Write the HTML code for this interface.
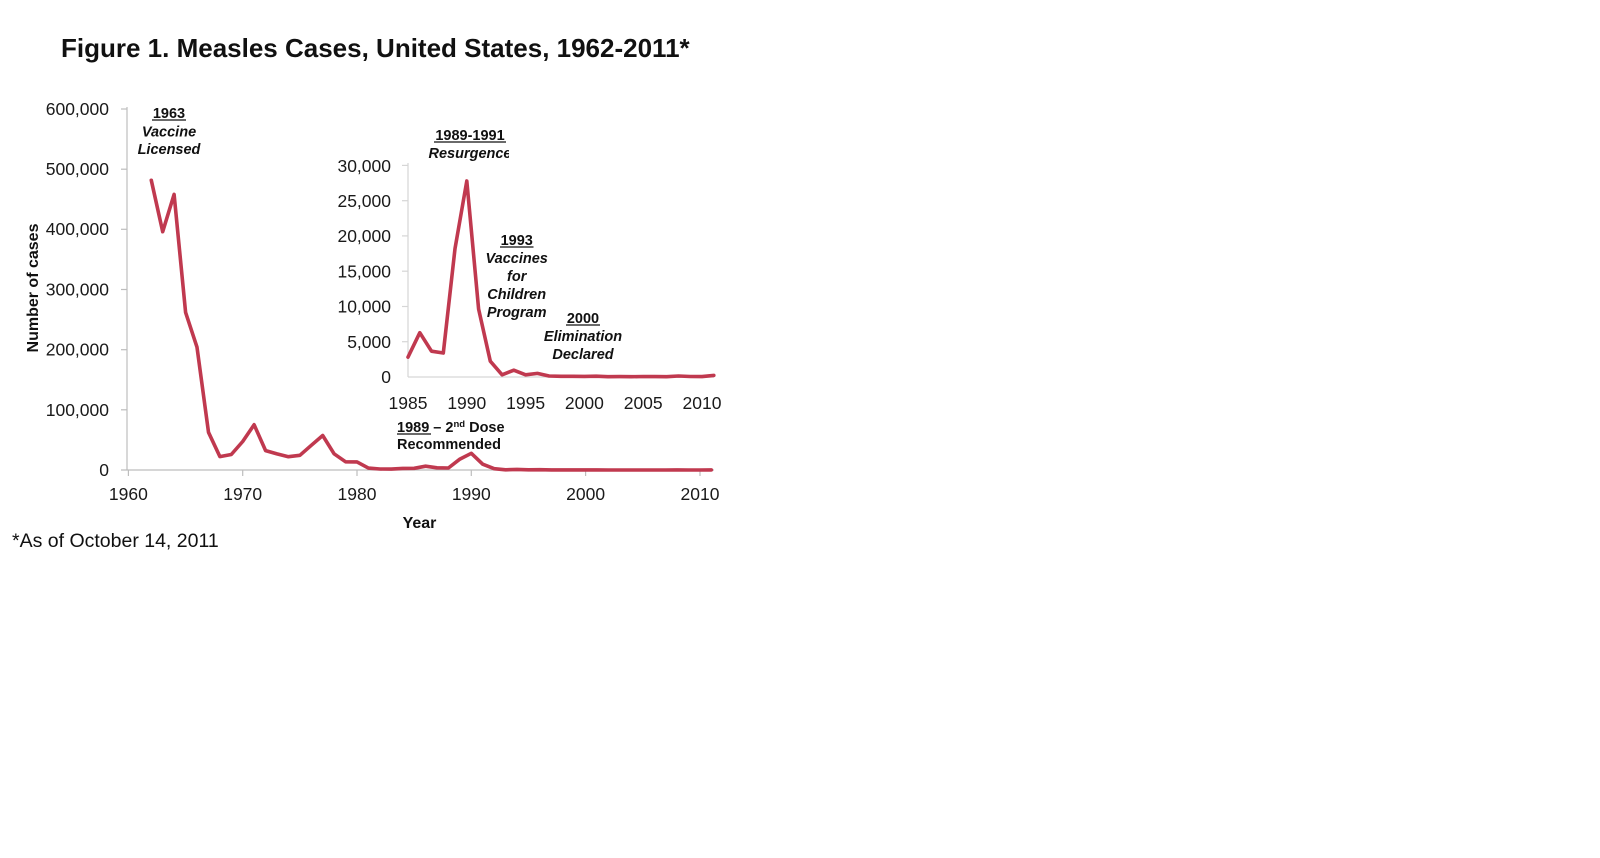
<!DOCTYPE html>
<html>
<head>
<meta charset="utf-8">
<style>
  html, body { margin:0; padding:0; background:#ffffff; }
  body { width:1600px; height:858px; overflow:hidden; }
  svg { display:block; }
  .tk { font-family:"Liberation Sans", Arial, sans-serif; font-size:17.5px; fill:#1a1a1a; }
  .ann { font-family:"Liberation Sans", Arial, sans-serif; font-size:14.5px; font-weight:bold; fill:#111; }
  .it { font-style:italic; }
</style>
</head>
<body>
<svg width="1600" height="858" viewBox="0 0 1600 858" xmlns="http://www.w3.org/2000/svg">
  <rect x="0" y="0" width="1600" height="858" fill="#ffffff"/>

  <!-- Title -->
  <text x="61" y="57" font-family="Liberation Sans, Arial, sans-serif" font-size="26" font-weight="bold" fill="#111">Figure 1. Measles Cases, United States, 1962-2011*</text>

  <!-- Main axes -->
  <g stroke="#bdbdbd" stroke-width="1.2" fill="none">
    <line x1="127" y1="107" x2="127" y2="470"/>
    <line x1="121" y1="470" x2="714" y2="470"/>
    <line x1="121" y1="109.0" x2="127" y2="109.0"/>
    <line x1="121" y1="169.2" x2="127" y2="169.2"/>
    <line x1="121" y1="229.3" x2="127" y2="229.3"/>
    <line x1="121" y1="289.5" x2="127" y2="289.5"/>
    <line x1="121" y1="349.7" x2="127" y2="349.7"/>
    <line x1="121" y1="409.8" x2="127" y2="409.8"/>
    <line x1="128.4" y1="470" x2="128.4" y2="476"/>
    <line x1="242.7" y1="470" x2="242.7" y2="476"/>
    <line x1="357.0" y1="470" x2="357.0" y2="476"/>
    <line x1="471.3" y1="470" x2="471.3" y2="476"/>
    <line x1="585.6" y1="470" x2="585.6" y2="476"/>
    <line x1="700.0" y1="470" x2="700.0" y2="476"/>
  </g>

  <!-- Main y labels -->
  <g class="tk" text-anchor="end">
    <text x="109" y="115">600,000</text>
    <text x="109" y="175">500,000</text>
    <text x="109" y="235">400,000</text>
    <text x="109" y="295.5">300,000</text>
    <text x="109" y="355.5">200,000</text>
    <text x="109" y="416">100,000</text>
    <text x="109" y="476">0</text>
  </g>
  <!-- Main x labels -->
  <g class="tk" text-anchor="middle">
    <text x="128.4" y="500">1960</text>
    <text x="242.7" y="500">1970</text>
    <text x="357.0" y="500">1980</text>
    <text x="471.3" y="500">1990</text>
    <text x="585.6" y="500">2000</text>
    <text x="700.0" y="500">2010</text>
  </g>

  <!-- Axis titles -->
  <text x="0" y="0" transform="translate(38,288) rotate(-90)" text-anchor="middle" font-family="Liberation Sans, Arial, sans-serif" font-size="16" font-weight="bold" fill="#111">Number of cases</text>
  <text x="419.5" y="528" text-anchor="middle" font-family="Liberation Sans, Arial, sans-serif" font-size="16" font-weight="bold" fill="#111">Year</text>

  <!-- Footnote -->
  <text x="12" y="547" font-family="Liberation Sans, Arial, sans-serif" font-size="19.5" fill="#111">*As of October 14, 2011</text>

  <!-- Main series -->
  <polyline fill="none" stroke="#c0394f" stroke-width="3.6" stroke-linejoin="round" stroke-linecap="round"
    points="151.3,180.3 162.7,231.7 174.1,194.4 185.6,312.4 197.0,347.2 208.5,432.3 219.9,456.6 231.3,454.5 242.7,441.5 254.1,424.7 265.6,450.6 277.0,453.9 288.4,456.7 299.9,455.3 311.3,445.3 322.7,435.5 334.1,453.8 345.6,461.8 357.0,461.9 368.4,468.1 379.9,469.0 391.3,469.1 402.7,468.4 414.2,468.3 425.6,466.2 437.0,467.8 448.4,468.0 459.9,459.1 471.3,453.3 482.7,464.2 494.2,468.7 505.6,469.8 517.0,469.4 528.4,469.8 539.9,469.7 551.3,469.9 562.7,469.9 574.2,469.9 585.6,469.9 597.0,469.9 608.4,470 619.9,470 631.3,470 642.7,470 654.2,470 665.6,470 677.0,469.9 688.4,470 699.9,470 711.3,469.9"/>

  <!-- Main annotations -->
  <g class="ann" text-anchor="middle">
    <text x="169" y="118">1963</text>
    <text x="169" y="136.5" class="it">Vaccine</text>
    <text x="169" y="154" class="it">Licensed</text>
  </g>
  <line x1="152" y1="120" x2="186" y2="120" stroke="#111" stroke-width="1.3"/>
  <g class="ann">
    <text x="397" y="432">1989 – 2<tspan font-size="9.5" dy="-5">nd</tspan><tspan dy="5"> Dose</tspan></text>
    <text x="397" y="449">Recommended</text>
  </g>
  <line x1="397" y1="434" x2="431" y2="434" stroke="#111" stroke-width="1.3"/>

  <!-- Inset axes -->
  <g stroke="#d6d6d6" stroke-width="1.2" fill="none">
    <line x1="408" y1="163" x2="408" y2="377"/>
    <line x1="408" y1="377" x2="714" y2="377"/>
    <line x1="402" y1="165.4" x2="408" y2="165.4"/>
    <line x1="402" y1="200.7" x2="408" y2="200.7"/>
    <line x1="402" y1="235.9" x2="408" y2="235.9"/>
    <line x1="402" y1="271.2" x2="408" y2="271.2"/>
    <line x1="402" y1="306.5" x2="408" y2="306.5"/>
    <line x1="402" y1="341.7" x2="408" y2="341.7"/>
  </g>
  <g class="tk" text-anchor="end">
    <text x="391" y="172">30,000</text>
    <text x="391" y="207">25,000</text>
    <text x="391" y="242">20,000</text>
    <text x="391" y="277.5">15,000</text>
    <text x="391" y="312.5">10,000</text>
    <text x="391" y="348">5,000</text>
    <text x="391" y="383">0</text>
  </g>
  <g class="tk" text-anchor="middle">
    <text x="408" y="409">1985</text>
    <text x="466.8" y="409">1990</text>
    <text x="525.6" y="409">1995</text>
    <text x="584.4" y="409">2000</text>
    <text x="643.2" y="409">2005</text>
    <text x="702" y="409">2010</text>
  </g>

  <!-- Inset series -->
  <polyline fill="none" stroke="#c0394f" stroke-width="3.6" stroke-linejoin="round" stroke-linecap="round"
    points="408,357.1 419.8,332.7 431.5,351.2 443.3,353.0 455.0,248.7 466.8,181.0 478.6,309.0 490.3,361.2 502.1,374.8 513.8,370.2 525.6,374.8 537.4,373.4 549.1,376.0 560.9,376.3 572.6,376.3 584.4,376.4 596.2,376.2 607.9,376.7 619.7,376.6 631.4,376.7 643.2,376.5 655.0,376.6 666.7,376.7 678.5,376.0 690.2,376.5 702.0,376.6 713.8,375.4"/>

  <!-- Inset annotations -->
  <defs>
    <clipPath id="resclip"><rect x="400" y="120" width="109" height="50"/></clipPath>
  </defs>
  <g class="ann" text-anchor="middle">
    <text x="470" y="140">1989-1991</text>
    <text x="470" y="158" class="it" clip-path="url(#resclip)">Resurgence</text>
    <text x="516.7" y="245">1993</text>
    <text x="516.7" y="263" class="it">Vaccines</text>
    <text x="516.7" y="281" class="it">for</text>
    <text x="516.7" y="299" class="it">Children</text>
    <text x="516.7" y="317" class="it">Program</text>
    <text x="583" y="323">2000</text>
    <text x="583" y="341" class="it">Elimination</text>
    <text x="583" y="359" class="it">Declared</text>
  </g>
  <g stroke="#111" stroke-width="1.3">
    <line x1="434" y1="142" x2="506" y2="142"/>
    <line x1="500" y1="247" x2="533.5" y2="247"/>
    <line x1="566" y1="325" x2="600" y2="325"/>
  </g>
</svg>
</body>
</html>
